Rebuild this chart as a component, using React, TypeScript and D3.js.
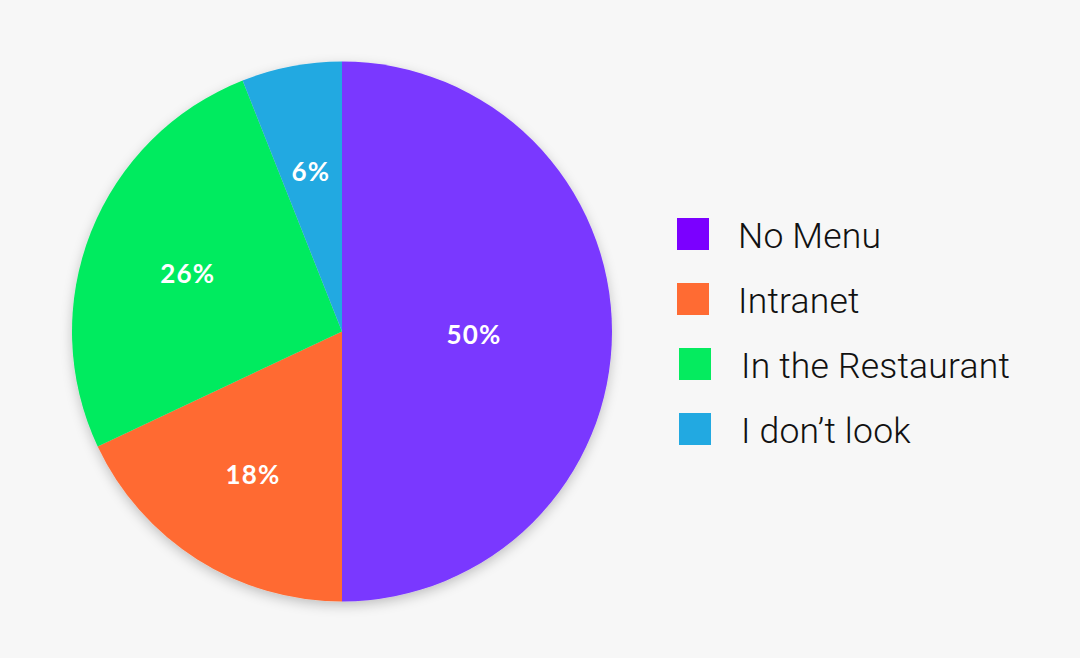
import { useRef, useEffect } from "react";
import * as d3 from "d3";

const categories = ["No Menu", "Intranet", "In the Restaurant", "I don\u2019t look"];
const values = [50, 18, 26, 6];
const sliceColors = ["#7a38ff", "#ff6b33", "#05eb5f", "#22a9e1"];
const legendColors = ["#7b00ff", "#ff6b33", "#05eb5f", "#22a9e1"];

const width = 1080;
const height = 658;

export default function App() {
  const svgRef = useRef<SVGSVGElement>(null);

  useEffect(() => {
    const svg = d3.select(svgRef.current).html(null);

    svg.append("rect").attr("width", width).attr("height", height).attr("fill", "#f7f7f7");

    const defs = svg.append("defs");
    const filter = defs.append("filter").attr("id", "pieShadow")
      .attr("x", "-20%").attr("y", "-20%").attr("width", "140%").attr("height", "140%");
    filter.append("feDropShadow")
      .attr("dx", 0).attr("dy", 4).attr("stdDeviation", 6)
      .attr("flood-color", "#000").attr("flood-opacity", 0.22);

    const radius = 270;
    const cx = 342;
    const cy = 331.5;

    const pie = d3.pie<number>().sort(null).value(d => d);
    const arcs = pie(values);

    const arc = d3.arc<d3.PieArcDatum<number>>().innerRadius(0).outerRadius(radius);

    const g = svg.append("g").attr("transform", `translate(${cx},${cy})`);

    const slices = g.append("g").attr("filter", "url(#pieShadow)");
    slices.selectAll("path")
      .data(arcs)
      .join("path")
      .attr("d", arc)
      .attr("fill", (_, i) => sliceColors[i]);

    // big slice label sits closer to center
    const labelRadius = (d: d3.PieArcDatum<number>) => (d.endAngle - d.startAngle > Math.PI * 0.9 ? 132 : 166);

    g.selectAll("text.pct")
      .data(arcs)
      .join("text")
      .attr("class", "pct")
      .attr("transform", d => {
        const a = (d.startAngle + d.endAngle) / 2;
        const r = labelRadius(d);
        return `translate(${r * Math.sin(a)},${-r * Math.cos(a) + 3})`;
      })
      .attr("text-anchor", "middle")
      .attr("dy", "0.36em")
      .attr("fill", "#fff")
      .style("font-family", "Lato, sans-serif")
      .style("font-weight", 700)
      .style("font-size", "26px")
      .style("letter-spacing", "1.2px")
      .text(d => `${d.data}%`);

    const legendX = [677, 677, 679, 679];
    const textX = [738, 738, 741, 741];
    const legendY = d3.scaleLinear().domain([0, 3]).range([218, 413]);

    const legend = svg.append("g");
    categories.forEach((c, i) => {
      legend.append("rect")
        .attr("x", legendX[i])
        .attr("y", legendY(i))
        .attr("width", 32)
        .attr("height", 32)
        .attr("fill", legendColors[i]);
      legend.append("text")
        .attr("x", textX[i])
        .attr("y", legendY(i) + 30)
        .attr("fill", "#111")
        .style("font-family", "Roboto, sans-serif")
        .style("font-weight", 300)
        .style("font-size", "35.5px")
        .style("letter-spacing", "0.2px")
        .text(c);
    });
  }, []);

  return (
    <div style={{ position: "absolute", left: 0, top: 0 }}>
      <svg ref={svgRef} width={width} height={height} style={{ display: "block" }}></svg>
    </div>
  );
}
